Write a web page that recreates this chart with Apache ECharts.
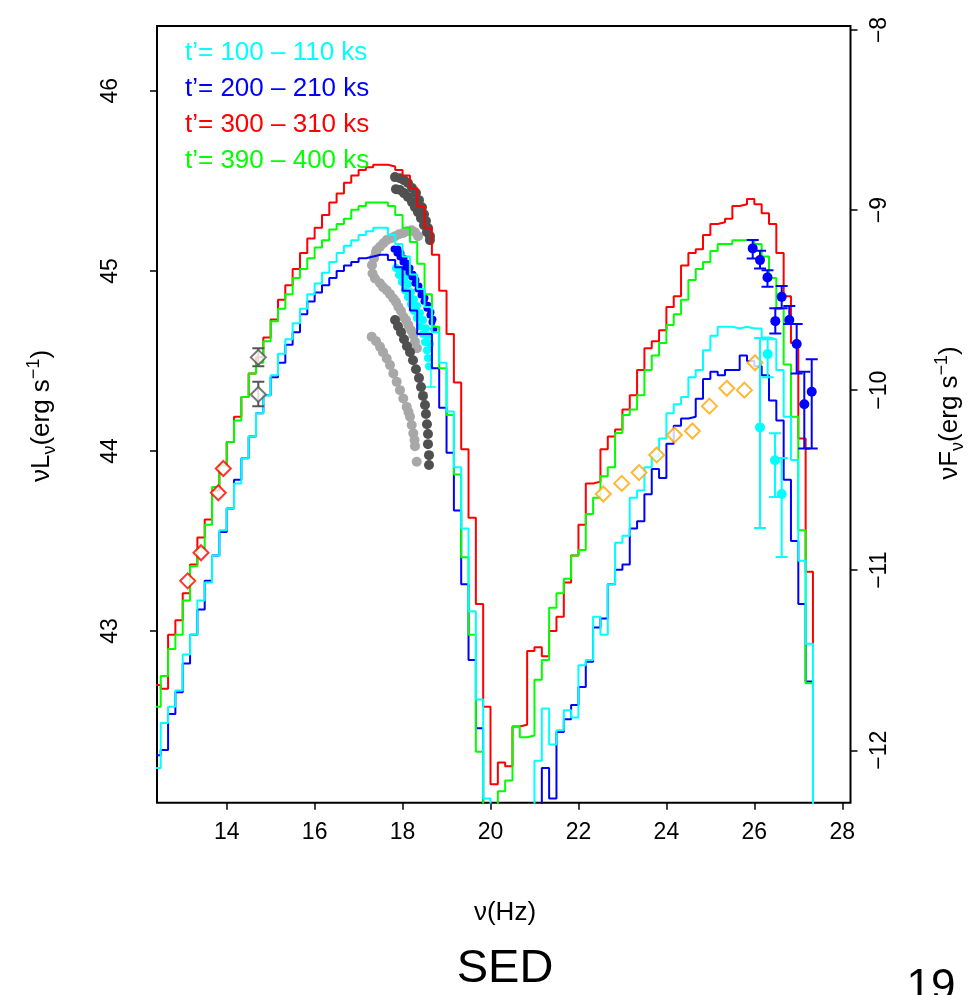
<!DOCTYPE html>
<html><head><meta charset="utf-8">
<script src="https://cdn.jsdelivr.net/npm/echarts@6/dist/echarts.min.js"></script>
<style>html,body{margin:0;padding:0;background:#fff}#c{width:971px;height:995px}</style>
</head><body><div id="c"></div>
<script>
// ---- bin edges (log nu, Hz) ----
const binEdges = [12.333,12.5,12.667,12.833,13.0,13.167,13.333,13.5,13.667,13.833,
14.0,14.167,14.333,14.5,14.667,14.833,15.0,15.167,15.333,15.5,
15.667,15.833,16.0,16.167,16.333,16.5,16.667,16.833,17.0,17.167,
17.333,17.5,17.667,17.833,18.0,18.167,18.333,18.5,18.667,18.833,
19.0,19.167,19.333,19.5,19.667,19.833,20.0,20.167,20.333,20.5,
20.667,20.833,21.0,21.167,21.333,21.5,21.667,21.833,22.0,22.167,
22.333,22.5,22.667,22.833,23.0,23.167,23.333,23.5,23.667,23.833,
24.0,24.167,24.333,24.5,24.667,24.833,25.0,25.167,25.333,25.5,
25.667,25.833,26.0,26.167,26.333,26.5,26.667,26.833,27.0,27.167,
27.333];
// ---- model SEDs, log nuL_nu ----
const lumCyan = [42.24,42.49,42.58,42.67,42.87,42.98,43.17,43.27,43.42,43.56,
43.68,43.82,43.96,44.08,44.21,44.31,44.42,44.54,44.62,44.71,
44.79,44.87,44.93,44.99,45.05,45.10,45.14,45.17,45.20,45.22,
45.24,45.24,45.20,45.15,45.08,44.98,44.90,44.80,44.66,44.49,
44.22,43.91,43.57,43.11,42.62,42.07,41.5,41.5,41.5,41.5,
41.5,41.5,42.28,42.57,42.37,42.45,42.56,42.52,42.81,42.84,
43.08,42.98,43.26,43.49,43.53,43.74,43.78,43.91,43.97,44.07,
44.21,44.26,44.30,44.41,44.45,44.56,44.64,44.69,44.69,44.68,
44.69,44.68,44.68,44.63,44.62,44.45,44.19,43.95,43.39,42.93,
41.5];
const lumBlue = [42.31,42.34,42.54,42.66,42.82,42.98,43.12,43.28,43.42,43.55,
43.68,43.84,43.96,44.08,44.21,44.31,44.41,44.49,44.59,44.66,
44.76,44.83,44.88,44.92,44.96,45.00,45.03,45.05,45.07,45.08,
45.09,45.09,45.06,45.02,44.89,44.78,44.65,44.65,44.46,44.24,
43.99,43.67,43.26,42.84,42.46,41.5,41.5,41.5,41.5,41.5,
41.5,41.5,41.5,42.24,42.07,42.44,42.51,42.59,42.69,42.83,
43.02,43.07,43.26,43.34,43.37,43.57,43.61,43.76,43.90,43.85,
44.04,44.14,44.18,44.19,44.29,44.40,44.44,44.42,44.45,44.45,
44.53,44.50,44.47,44.42,44.28,44.17,43.84,43.50,43.15,42.72,
41.5];
const lumRed = [42.70,42.68,42.98,43.06,43.21,43.37,43.52,43.62,43.78,43.92,
44.05,44.19,44.30,44.43,44.52,44.63,44.73,44.84,44.92,45.01,
45.10,45.18,45.24,45.31,45.38,45.43,45.49,45.53,45.56,45.575,
45.59,45.59,45.58,45.56,45.53,45.46,45.36,45.24,45.09,44.89,
44.65,44.38,44.01,43.63,43.15,42.58,42.15,42.27,42.25,42.47,
42.48,42.89,42.91,42.86,43.00,43.08,43.27,43.42,43.59,43.82,
43.83,44.01,44.08,44.12,44.23,44.31,44.45,44.57,44.61,44.67,
44.80,44.86,45.03,45.10,45.12,45.20,45.26,45.27,45.29,45.36,
45.37,45.40,45.37,45.32,45.26,45.10,44.86,44.60,44.07,43.33,
42.93];
const lumGreen = [42.58,42.75,42.90,42.98,43.17,43.36,43.46,43.59,43.80,43.92,
44.05,44.17,44.30,44.43,44.49,44.61,44.72,44.79,44.87,44.96,
45.01,45.07,45.13,45.17,45.23,45.26,45.29,45.34,45.36,45.38,
45.38,45.38,45.36,45.31,45.24,45.16,45.04,44.87,44.69,44.46,
44.20,43.87,43.41,42.98,42.33,41.5,41.5,42.11,42.17,42.47,
42.41,42.42,42.73,42.84,43.13,43.21,43.29,43.42,43.45,43.65,
43.74,43.86,43.91,44.10,44.20,44.23,44.31,44.45,44.53,44.60,
44.70,44.76,44.84,44.95,45.01,45.05,45.11,45.15,45.15,45.17,
45.17,45.17,45.15,45.08,44.96,44.79,44.48,44.19,43.56,42.71,
41.5];
const legendLabels = ["t\u2019= 100 \u2013 110 ks","t\u2019= 200 \u2013 210 ks","t\u2019= 300 \u2013 310 ks","t\u2019= 390 \u2013 400 ks"];
const xTicks = [14,16,18,20,22,24,26,28];
const yTicksLeft = [43,44,45,46];
const yTicksRight = [-8,-9,-10,-11,-12];
// ---- optical data ----
const optRedNu = [13.113,13.416,13.809,13.923];
const optRedL = [43.279,43.435,43.768,43.903];
const optGrayNu = [14.719,14.719];
const optGrayL = [44.520,44.314];
const optGrayLo = [44.471,44.249];
const optGrayHi = [44.570,44.384];
// ---- X-ray spectra ----
const darkGrayNu = [17.828,17.941,18.032,18.123,18.214,18.305,18.373,18.441,18.487,18.532,18.578,18.623,
17.850,17.941,18.032,18.123,18.214,18.282,18.351,18.419,18.487,18.555,18.623,
17.828,17.896,17.964,18.032,18.100,18.169,18.237,18.305,18.373,18.419,18.464,18.510,18.532,18.555,18.578,18.578,18.601,18.601];
const darkGrayL = [45.521,45.515,45.504,45.488,45.460,45.432,45.393,45.354,45.315,45.277,45.238,45.193,
45.454,45.449,45.432,45.410,45.382,45.354,45.326,45.293,45.254,45.215,45.171,
44.727,44.693,44.660,44.621,44.582,44.549,44.504,44.454,44.405,44.355,44.306,44.255,44.205,44.149,44.094,44.038,43.977,43.922];
const lightGrayNu = [17.411,17.487,17.562,17.639,17.737,17.828,17.919,18.016,18.112,18.207,18.282,18.351,
17.350,17.396,17.304,17.316,17.373,17.487,17.555,17.639,17.714,17.789,17.850,17.903,17.964,18.016,18.078,18.130,18.192,18.244,18.282,18.328,
17.298,17.396,17.487,17.555,17.639,17.714,17.789,17.866,17.941,18.016,18.094,18.135,18.169,18.207,18.244,18.271,18.282,18.321];
const lightGrayL = [45.116,45.134,45.154,45.171,45.182,45.193,45.204,45.211,45.220,45.226,45.215,45.193,
45.071,45.105,45.032,44.986,44.958,44.931,44.910,44.893,44.871,44.847,44.827,44.801,44.777,44.745,44.727,44.699,44.671,44.644,44.606,44.571,
44.634,44.610,44.579,44.549,44.514,44.477,44.431,44.384,44.338,44.292,44.245,44.216,44.190,44.144,44.098,44.061,44.027,43.940];
const xrtBlueNu = [17.805,17.873,17.941,18.009,18.078,18.146,18.214,18.282,18.351,18.419,18.487,18.555,18.623,18.669,18.714,
17.896,17.964,18.032,18.100,18.169,18.237,18.305,18.373,18.441,18.510,18.578,18.646,18.691];
const xrtBlueL = [45.121,45.099,45.077,45.049,45.021,44.993,44.966,44.932,44.899,44.866,44.832,44.793,44.755,44.716,44.677,
45.121,45.099,45.071,45.043,45.016,44.982,44.949,44.916,44.882,44.849,44.810,44.771,44.732];
const xrtCyanNu = [17.850,17.919,17.987,18.055,18.123,18.191,18.260,18.328,18.396,18.464,18.510,18.555,18.578,18.601,
17.987,18.055,18.123,18.191,18.260,18.328,18.396,18.464,18.532,18.578,18.623];
const xrtCyanL = [45.016,44.977,44.938,44.893,44.855,44.816,44.777,44.738,44.693,44.649,44.605,44.560,44.516,44.471,
45.004,44.966,44.927,44.882,44.843,44.805,44.766,44.727,44.682,44.638,44.594];
const xrtCyanErrNu = [18.646];
const xrtCyanErrL = [44.410];
const xrtCyanErrLo = [44.355];
const xrtCyanErrHi = [44.460];
// ---- gamma-ray ----
const orangeNu = [22.565,22.984,23.378,23.780,24.182,24.591,24.978,25.373,25.773,26.016];
const orangeL = [43.761,43.820,43.880,43.978,44.089,44.111,44.249,44.348,44.338,44.490];
const latBlueNu = [25.963,26.129,26.299,26.477,26.622,26.795,26.963,27.136,27.305];
const latBlueL = [45.125,45.060,44.964,44.721,44.856,44.727,44.594,44.260,44.329];
const latBlueLo = [45.069,45.014,44.912,44.653,44.792,44.705,44.431,44.014,44.014];
const latBlueHi = [45.171,45.112,45.004,44.792,44.916,44.805,44.705,44.440,44.509];
const latCyanNu = [26.129,26.304,26.470,26.622];
const latCyanL = [44.131,44.538,43.949,43.761];
const latCyanLo = [43.572,44.410,43.744,43.411];
const latCyanHi = [44.627,44.621,44.099,43.961];

const FONT = "'Liberation Sans', Arial, Helvetica, sans-serif";
const pairs = (xs, ys) => xs.map((x, i) => [x, ys[i]]);
const triples = (xs, lo, hi) => xs.map((x, i) => [x, lo[i], hi[i]]);
const stepSeries = (ys, color, z) => ({
  type: 'line', data: pairs(binEdges, ys), step: 'end', showSymbol: false, symbol: 'none',
  lineStyle: { color: color, width: 2 }, clip: true, z: z, silent: true, animation: false
});
const errSeries = (data, color, capHalf, width, z) => ({
  type: 'custom', data: data, z: z, silent: true, animation: false, clip: true,
  encode: { x: 0, y: [1, 2] },
  renderItem: function (params, api) {
    const x = api.value(0), lo = api.value(1), hi = api.value(2);
    const p1 = api.coord([x, lo]), p2 = api.coord([x, hi]);
    const st = { stroke: color, lineWidth: width };
    return { type: 'group', children: [
      { type: 'line', shape: { x1: p1[0], y1: p1[1], x2: p2[0], y2: p2[1] }, style: st },
      { type: 'line', shape: { x1: p1[0] - capHalf, y1: p1[1], x2: p1[0] + capHalf, y2: p1[1] }, style: st },
      { type: 'line', shape: { x1: p2[0] - capHalf, y1: p2[1], x2: p2[0] + capHalf, y2: p2[1] }, style: st }
    ]};
  }
});
const dots = (xs, ys, color, size, z, symbol, bw) => ({
  type: 'scatter', data: pairs(xs, ys), symbol: symbol || 'circle', symbolSize: size, z: z,
  itemStyle: symbol && symbol.indexOf('empty') === 0 ? { color: color, borderColor: color, borderWidth: bw || 2 } : { color: color, opacity: 1 },
  silent: true, animation: false, clip: true
});

const legendColors = ['#00FFFF', '#0000FF', '#FF0000', '#00FF00'];
const graphics = legendLabels.map((t, i) => ({
  type: 'text', x: 185, y: 53 + i * 36,
  style: { text: t, fill: legendColors[i], font: '26px ' + FONT, align: 'left', verticalAlign: 'middle' }, z: 50
}));
const rich = {
  a: { fontSize: 26, fontFamily: FONT, lineHeight: 34, verticalAlign: 'middle', fill: '#000' },
  b: { fontSize: 18, fontFamily: FONT, lineHeight: 34, verticalAlign: 'bottom', fill: '#000' },
  c: { fontSize: 18, fontFamily: FONT, lineHeight: 34, verticalAlign: 'top', fill: '#000' }
};
graphics.push(
  { type: 'text', x: 42, y: 416, rotation: Math.PI / 2,
    style: { text: '{a|\u03bdL}{b|\u03bd}{a|(erg s}{c|\u22121}{a|)}', rich: rich, align: 'center', verticalAlign: 'middle' } },
  { type: 'text', x: 950, y: 413, rotation: Math.PI / 2,
    style: { text: '{a|\u03bdF}{b|\u03bd}{a|(erg s}{c|\u22121}{a|)}', rich: rich, align: 'center', verticalAlign: 'middle' } },
  { type: 'text', x: 505, y: 913, style: { text: '\u03bd(Hz)', fill: '#000', font: '26px ' + FONT, align: 'center', verticalAlign: 'middle' } },
  { type: 'text', x: 505, y: 969, style: { text: 'SED', fill: '#000', font: '47px ' + FONT, align: 'center', verticalAlign: 'middle' } },
  { type: 'text', x: 931, y: 988, style: { text: '19', fill: '#000', font: '44px ' + FONT, align: 'center', verticalAlign: 'middle' } }
);

const tickStyle = { show: true, inside: false, length: 7, lineStyle: { color: '#000', width: 1.5 } };
const minusFmt = v => (v < 0 ? '\u2212' + Math.abs(v) : String(v));
const option = {
  backgroundColor: '#fff',
  animation: false,
  grid: { left: 157, top: 26, width: 693.5, height: 776.7, show: true, borderColor: '#000', borderWidth: 2, backgroundColor: 'transparent', containLabel: false },
  xAxis: { type: 'value', min: 12.415, max: 28.187, position: 'bottom',
    axisLine: { show: false }, splitLine: { show: false },
    axisTick: Object.assign({ customValues: xTicks }, tickStyle),
    axisLabel: { customValues: xTicks, fontSize: 23, fontFamily: FONT, color: '#000', margin: 18 } },
  yAxis: [
    { type: 'value', min: 42.047, max: 46.36, position: 'left',
      axisLine: { show: false }, splitLine: { show: false },
      axisTick: Object.assign({ customValues: yTicksLeft }, tickStyle),
      axisLabel: { customValues: yTicksLeft, rotate: 90, fontSize: 23, fontFamily: FONT, color: '#000', margin: 35 } },
    { type: 'value', min: -12.291, max: -7.978, position: 'right',
      axisLine: { show: false }, splitLine: { show: false },
      axisTick: Object.assign({ customValues: yTicksRight }, tickStyle),
      axisLabel: { customValues: yTicksRight, rotate: 90, fontSize: 23, fontFamily: FONT, color: '#000', margin: 18, formatter: minusFmt } }
  ],
  series: [
    dots(lightGrayNu, lightGrayL, '#A8A8A8', 10, 2),
    dots(darkGrayNu, darkGrayL, '#505050', 10, 3),
    dots(xrtCyanNu, xrtCyanL, '#00FFFF', 8, 3),
    dots(xrtBlueNu, xrtBlueL, '#0000FF', 7, 3),
    errSeries(triples(xrtCyanErrNu, xrtCyanErrLo, xrtCyanErrHi), '#00FFFF', 5, 1.5, 3),
    stepSeries(lumRed, '#FF0000', 5),
    stepSeries(lumBlue, '#0000FF', 6),
    stepSeries(lumGreen, '#00FF00', 7),
    stepSeries(lumCyan, '#00FFFF', 8),
    dots(optRedNu, optRedL, '#FF0000', 15, 10, 'emptyDiamond', 2.5),
    errSeries(triples(optGrayNu, optGrayLo, optGrayHi), '#555555', 6, 2, 10),
    dots(optGrayNu, optGrayL, '#555555', 15, 11, 'emptyDiamond', 2.5),
    dots(orangeNu, orangeL, '#FFA500', 15, 10, 'emptyDiamond', 2.5),
    errSeries(triples(latBlueNu, latBlueLo, latBlueHi), '#0000FF', 6, 2, 12),
    dots(latBlueNu, latBlueL, '#0000FF', 10, 12),
    errSeries(triples(latCyanNu, latCyanLo, latCyanHi), '#00FFFF', 6, 2, 12),
    dots(latCyanNu, latCyanL, '#00FFFF', 10, 12)
  ],
  graphic: graphics
};
const chart = echarts.init(document.getElementById('c'), null, { renderer: 'canvas' });
chart.setOption(option);
</script>
</body></html>
